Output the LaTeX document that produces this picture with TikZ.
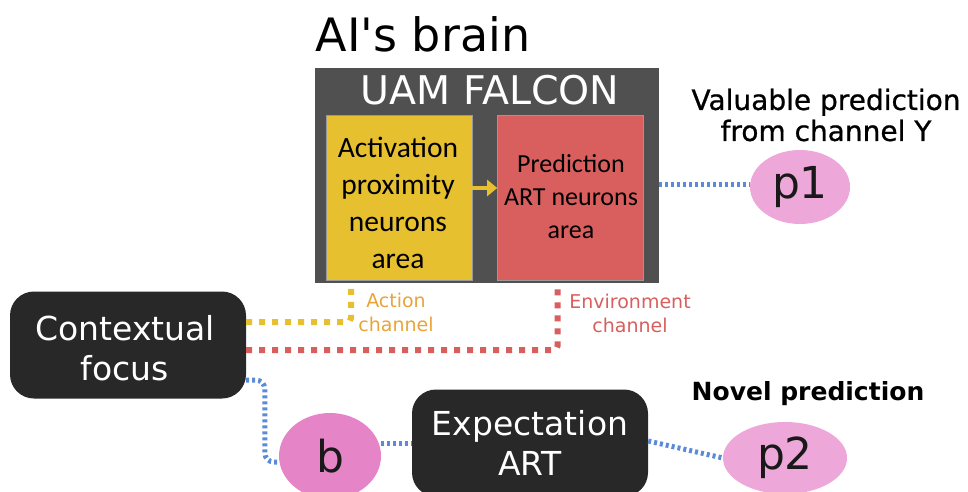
\documentclass[tikz,border=0pt]{standalone}
\usepackage{fontspec}
\setmainfont{DejaVu Sans}
\newfontfamily\calib{Carlito}
\newfontfamily\medium[FakeBold=0.8]{DejaVu Sans}
\usetikzlibrary{shapes.geometric,arrows.meta}
\definecolor{panelgray}{HTML}{505050}
\definecolor{nodeblack}{HTML}{282828}
\definecolor{actyellow}{HTML}{E6C02F}
\definecolor{predred}{HTML}{D95E5E}
\definecolor{linkblue}{HTML}{5A8AD8}
\definecolor{actorange}{HTML}{E8A43A}
\definecolor{pinkb}{HTML}{E585C8}
\definecolor{pinkp}{HTML}{EDA8D9}
\tikzset{
  darkbox/.style={draw=none, fill=nodeblack, rounded corners=24pt, text=white,
    minimum width=236pt, minimum height=107pt, align=center, inner sep=0pt,
    font=\fontsize{33}{40}\selectfont},
  area/.style={draw=black!40, line width=0.6pt, minimum width=146pt, minimum height=165pt,
    inner sep=0pt},
  blob/.style={ellipse, draw=none, inner sep=0pt, font=\fontsize{44}{48}\selectfont, text=black!90},
  bluelink/.style={linkblue, line width=5pt, dash pattern=on 3pt off 3pt},
  chanlink/.style={line width=6pt, dash pattern=on 6pt off 7pt},
  caption/.style={align=center, inner sep=0pt},
}
\begin{document}
\begin{tikzpicture}[x=1pt, y=-1pt]
\useasboundingbox (0,0) rectangle (968,492);

% title
\node[caption, font=\fontsize{46}{50}\selectfont] (title) at (423,34) {AI\textquotesingle s brain};

% UAM FALCON panel with its two areas
\node[fill=panelgray, minimum width=344pt, minimum height=215pt, inner sep=0pt] (falcon) at (487,175.5) {};
\node[caption, text=white, font=\fontsize{39.5}{40}\selectfont] (falconlbl) at (490,90) {UAM FALCON};
\node[area, fill=actyellow] (act) at (399,197.5) {};
\node[area, fill=predred] (pred) at (570.5,197.5) {};
\node[caption, font=\calib\fontsize{29.5}{37}\selectfont] (acttxt) at (398,203)
  {Activation\\proximity\\neurons\\area};
\node[caption, font=\calib\fontsize{26}{33}\selectfont] (predtxt) at (571,197)
  {Prediction\\ART neurons\\area};
\draw[actyellow, line width=4pt, -{Triangle[length=10pt,width=16pt]}]
  ([yshift=9.5pt]act.east) -- ([yshift=9.5pt]pred.west);

% dark nodes
\node[darkbox] (ctx) at (128,345) {};
\node[caption, text=white, font=\fontsize{33}{40}\selectfont] (ctxtxt) at (125,348.5) {Contextual\\focus};
\node[darkbox] (expect) at (530,443) {Expectation\\ART};

% prediction ellipses
\node[blob, fill=pinkb, minimum width=102pt, minimum height=86pt] (b) at (330,456) {b};
\node[blob, fill=pinkp, minimum width=100pt, minimum height=74pt] (p1) at (800,187) {p1};
\node[blob, fill=pinkp, minimum width=124pt, minimum height=72pt] (p2) at (785,458) {p2};

% captions
\node[caption, font=\medium\fontsize{28}{31}\selectfont] (valcap) at (826,115) {Valuable prediction\\from channel Y};
\node[caption, font=\bfseries\fontsize{25}{28}\selectfont] (novcap) at (808,394) {Novel prediction};
\node[caption, text=actorange, font=\fontsize{19}{24}\selectfont] (actcap) at (396,312) {Action\\channel};
\node[caption, text=predred, font=\fontsize{19}{24}\selectfont] (envcap) at (630,313) {Environment\\channel};

% channels from the contextual focus
\draw[chanlink, actyellow, rounded corners=4pt]
  ([yshift=23pt]ctx.east) -| ([xshift=-48pt, yshift=-7pt]act.south);
\draw[chanlink, predred, rounded corners=4pt]
  ([yshift=-5pt]ctx.east) -| ([xshift=-13pt, yshift=-7pt]pred.south);

% blue links
\draw[bluelink] (falcon.east |- 0,184) -- (p1.west |- 0,184);
\draw[bluelink, rounded corners=9pt]
  ([yshift=-35pt]ctx.east) -| ([xshift=-14pt, yshift=-6pt]b.west) -- ([yshift=-6pt]b.west);
\draw[bluelink] (b.east |- expect.west) -- (expect.west);
\draw[bluelink] ([yshift=2pt]expect.east) -- (p2.west);
\end{tikzpicture}
\end{document}
